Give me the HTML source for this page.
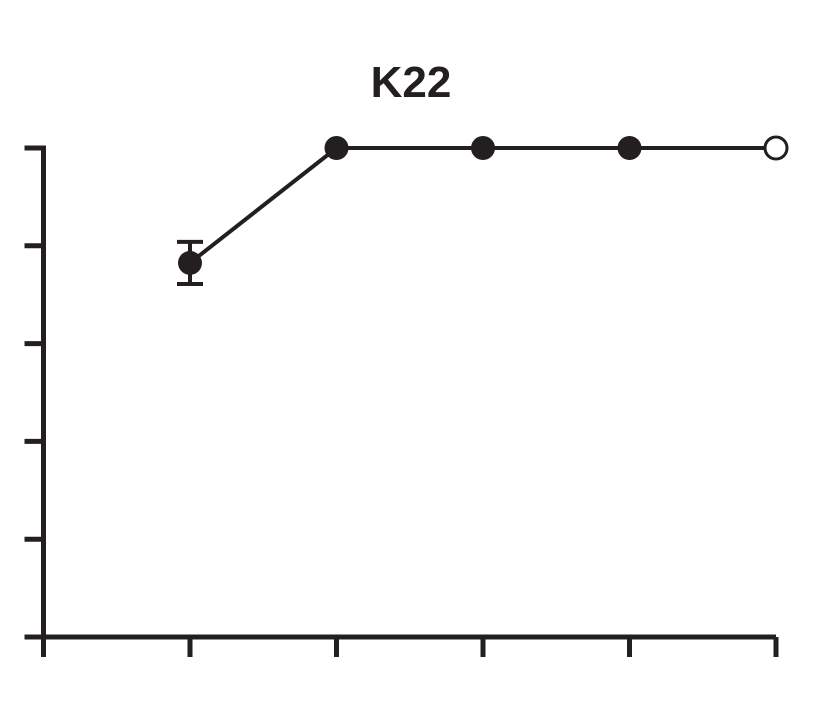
<!DOCTYPE html>
<html><head><meta charset="utf-8"><style>
html,body{margin:0;padding:0;background:#fff;}
svg{display:block;}
</style></head><body>
<svg id="chart" width="834" height="720" viewBox="0 0 834 720">
<text x="411" y="97" text-anchor="middle" font-family="Liberation Sans, sans-serif" font-weight="bold" font-size="44" fill="#231f20">K22</text>
<g id="axes"></g>
<g id="series"></g>
</svg>
<script>
const categories = [0, 1, 2, 3, 4, 5];
const yTicks = [0, 20, 40, 60, 80, 100];
const xPoints = [1, 2, 3, 4, 5];
const yValues = [76.5, 100, 100, 100, 100];
const yErrors = [4.3, 0, 0, 0, 0];
const filled = [true, true, true, true, false];

const X0 = 43.5, X1 = 776, Y0 = 637, Y1 = 148;
const xs = v => X0 + (v - categories[0]) / (categories[categories.length-1] - categories[0]) * (X1 - X0);
const ys = v => Y0 - (v - yTicks[0]) / (yTicks[yTicks.length-1] - yTicks[0]) * (Y0 - Y1);
const NS = "http://www.w3.org/2000/svg";
const C = "#231f20";
function mk(tag, attrs, parent){const e=document.createElementNS(NS,tag);for(const k in attrs)e.setAttribute(k,attrs[k]);parent.appendChild(e);return e;}
const axes = document.getElementById('axes');
const series = document.getElementById('series');

let e = mk('path',{d:`M${X0-19},${Y1} H${X0} V${Y0} H${X1}`,fill:'none',stroke:C,'stroke-width':5,'stroke-linejoin':'miter'},axes);


yTicks.forEach(t=>{
  const l = mk('line',{x1:X0-19,x2:X0,y1:ys(t),y2:ys(t),stroke:C,'stroke-width':5},axes);
  
  
});
categories.forEach(c=>{
  const l = mk('line',{x1:xs(c),x2:xs(c),y1:Y0,y2:Y0+20,stroke:C,'stroke-width':5},axes);
  
  
});

const pts = xPoints.map((x,i)=>`${xs(x)},${ys(yValues[i])}`).join(' ');
e = mk('polyline',{points:pts,fill:'none',stroke:C,'stroke-width':4},series);



xPoints.forEach((x,i)=>{
  const cx = xs(x);
  if (yErrors[i] > 0) {
    const top = ys(yValues[i]+yErrors[i]), bot = ys(yValues[i]-yErrors[i]);
    const g = mk('path',{d:`M${cx},${top} V${bot} M${cx-13},${top} H${cx+13} M${cx-13},${bot} H${cx+13}`,stroke:C,'stroke-width':4,fill:'none'},series);
    
    
  }
  const m = mk('circle',{cx:cx,cy:ys(yValues[i]),r:filled[i]?12:11,fill:filled[i]?C:'#fff',stroke:C,'stroke-width':filled[i]?0:3},series);
  
  
});
</script>
</body></html>
